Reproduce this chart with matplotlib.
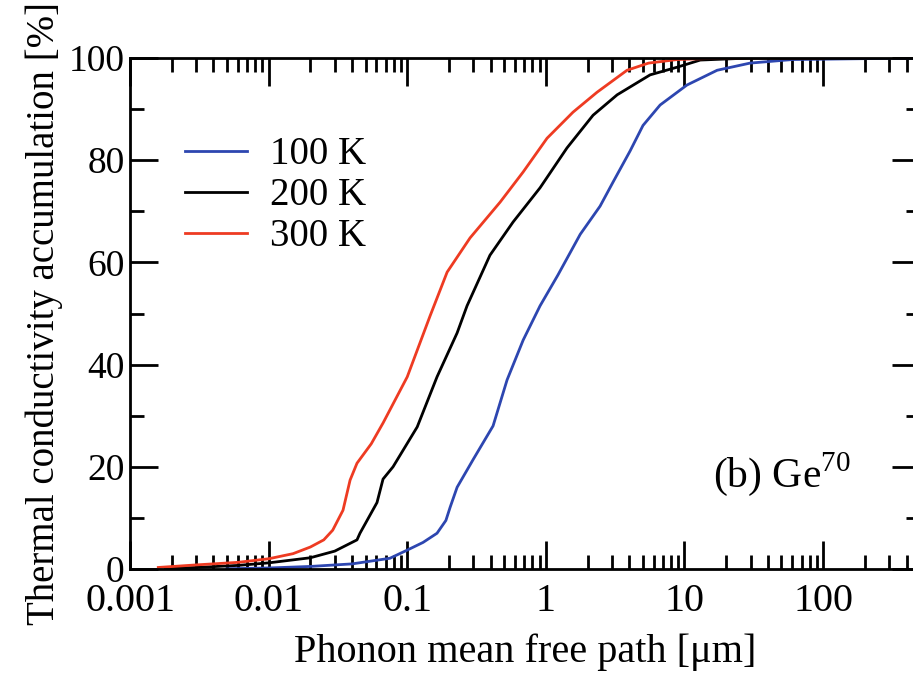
import numpy as np
import matplotlib
matplotlib.use("Agg")
import matplotlib.pyplot as plt
from matplotlib.ticker import LogLocator, NullFormatter, FixedLocator

plt.rcParams['font.family'] = ['Liberation Serif', 'DejaVu Serif']
plt.rcParams['mathtext.fontset'] = 'custom'
plt.rcParams['mathtext.rm'] = 'Liberation Serif'

# 100 K
x_100 = [0.005, 0.01, 0.02, 0.04, 0.075, 0.1, 0.13, 0.164, 0.19, 0.204, 0.229, 0.3,
         0.416, 0.525, 0.686, 0.908, 1.22, 1.77, 2.46, 3.05, 4.05, 5.02, 6.67, 10.4,
         17.2, 29.7, 60, 500]
y_100 = [0.05, 0.2, 0.5, 1.0, 2.1, 3.7, 5.2, 7.0, 9.5, 12.1, 16.0, 21.5,
         28.0, 37.0, 44.8, 51.5, 57.5, 65.5, 71.0, 75.7, 81.8, 86.8, 90.8, 94.7,
         97.6, 99.0, 99.7, 100]

# 200 K
x_200 = [0.0018, 0.003, 0.006, 0.01, 0.02, 0.03, 0.0434, 0.0456, 0.0605, 0.0669, 0.079,
         0.118, 0.164, 0.229, 0.27, 0.395, 0.58, 0.908, 1.42, 2.19, 3.27, 5.65, 8.85,
         13, 30, 100]
y_200 = [0.1, 0.3, 0.7, 1.2, 2.2, 3.5, 5.7, 7.0, 13.0, 17.6, 20.0,
         27.8, 37.6, 46.2, 51.5, 61.4, 67.9, 74.6, 82.4, 88.8, 92.8, 96.7, 98.2,
         99.6, 100, 100]

# 300 K
x_300 = [0.0016, 0.003, 0.006, 0.01, 0.015, 0.02, 0.025, 0.029, 0.0344, 0.0387, 0.0434,
         0.055, 0.067, 0.1, 0.146, 0.194, 0.284, 0.468, 0.686, 1.02, 1.57, 2.34, 3.85,
         5.5, 8.85, 15, 30, 100]
y_300 = [0.3, 0.8, 1.3, 2.0, 3.0, 4.3, 5.7, 7.6, 11.5, 17.4, 20.7,
         24.5, 28.6, 37.6, 49.5, 58.1, 64.8, 71.8, 77.7, 84.3, 89.4, 93.3, 97.6,
         99.0, 99.7, 99.9, 100, 100]

fig = plt.figure(figsize=(9.13, 6.78), dpi=100)
W, H = 913, 678
ax = fig.add_axes([130 / W, 1 - 569 / H, (920 - 130) / W, (569 - 58) / H])

ax.plot(x_100, y_100, color='#2d46b0', lw=2.0, label='100 K')
ax.plot(x_200, y_200, color='black', lw=2.0, label='200 K')
ax.plot(x_300, y_300, color='#ee3b22', lw=2.0, label='300 K')

ax.set_xscale('log')
ax.set_xlim(0.001, 500)
ax.set_ylim(0, 100)

ax.xaxis.set_minor_locator(LogLocator(base=10, subs=np.arange(2, 10), numticks=12))
ax.xaxis.set_minor_formatter(NullFormatter())
ax.set_xticks([0.001, 0.01, 0.1, 1, 10, 100])
ax.set_xticklabels(['0.001', '0.01', '0.1', '1', '10', '100'], fontsize=29)
ax.set_yticks([0, 20, 40, 60, 80, 100])
ax.set_yticklabels(['0', '20', '40', '60', '80', '100'], fontsize=27)
ax.yaxis.set_minor_locator(FixedLocator([10, 30, 50, 70, 90]))

ax.tick_params(which='both', direction='in', top=True, right=True, width=2)
ax.tick_params(which='major', length=20)
ax.tick_params(which='minor', length=10)
ax.tick_params(axis='x', which='major', pad=10)
ax.tick_params(axis='y', which='major', pad=4)
for s in ax.spines.values():
    s.set_linewidth(2)

ax.set_xlabel('Phonon mean free path [μm]', fontsize=29, labelpad=10)
ax.set_ylabel('Thermal conductivity accumulation [%]', fontsize=28, labelpad=4)

ax.legend(loc='upper left', bbox_to_anchor=(0.025, 0.915), frameon=False, fontsize=28,
          handlelength=1.6, handletextpad=0.6, labelspacing=0.1)

ax.text(0.738, 0.16, r'(b) Ge$^{70}$', transform=ax.transAxes, fontsize=30)

fig.savefig('out.png', dpi=100)
